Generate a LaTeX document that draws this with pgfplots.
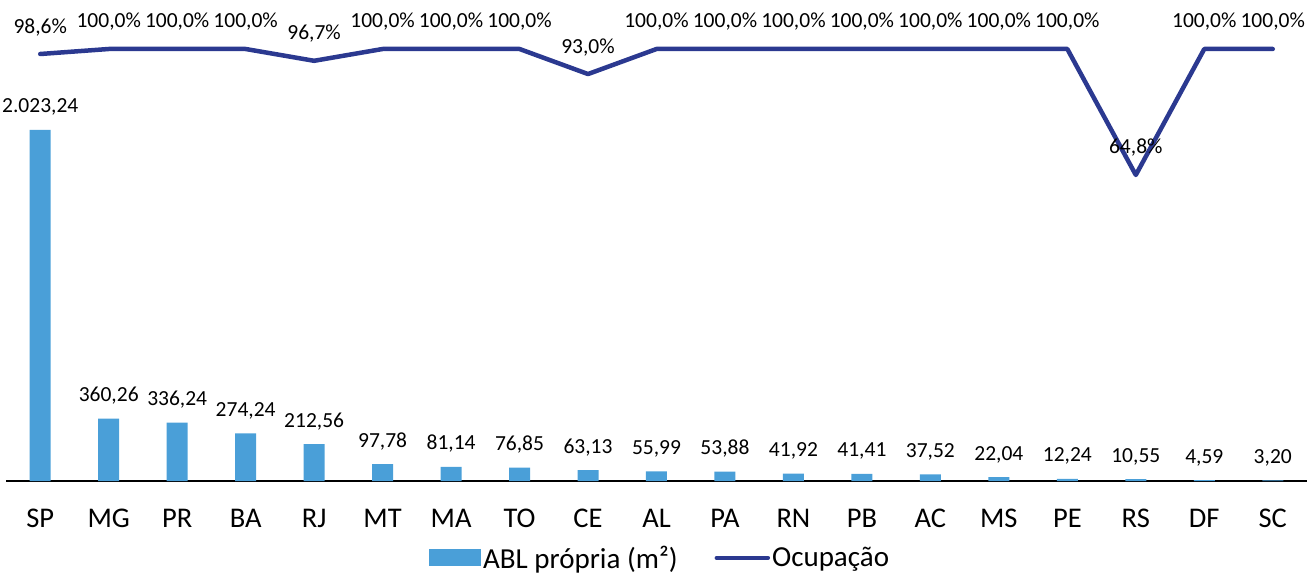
\documentclass[border=0pt]{standalone}
\usepackage{fontspec}
\setmainfont{Carlito}
\usepackage{pgfplots}
\usepackage{pgfplotstable}
\pgfplotsset{compat=1.18}
\definecolor{barblue}{HTML}{4A9FD8}
\definecolor{navy}{HTML}{2B3990}

\pgfplotstableread{
x y lbl
0 2023.24 2.023,24
1 360.26 360,26
2 336.24 336,24
3 274.24 274,24
4 212.56 212,56
5 97.78 97,78
6 81.14 81,14
7 76.85 76,85
8 63.13 63,13
9 55.99 55,99
10 53.88 53,88
11 41.92 41,92
12 41.41 41,41
13 37.52 37,52
14 22.04 22,04
15 12.24 12,24
16 10.55 10,55
17 4.59 4,59
18 3.20 3,20
}\abl

\pgfplotstableread{
x y lbl
0 98.6 98,6
1 100.0 100,0
2 100.0 100,0
3 100.0 100,0
4 96.7 96,7
5 100.0 100,0
6 100.0 100,0
7 100.0 100,0
8 93.0 93,0
9 100.0 100,0
10 100.0 100,0
11 100.0 100,0
12 100.0 100,0
13 100.0 100,0
14 100.0 100,0
15 100.0 100,0
16 64.8 64,8
17 100.0 100,0
18 100.0 100,0
}\ocup

\begin{document}
\begin{tikzpicture}
\begin{axis}[
  at={(6pt,93pt)}, anchor=south west,
  scale only axis, width=1301pt, height=432pt,
  xmin=-0.5, xmax=18.5, ymin=0, ymax=2490,
  axis x line*=bottom, axis y line=none,
  x axis line style={line width=2.5pt, black},
  xtick={0,...,18},
  xticklabels={SP,MG,PR,BA,RJ,MT,MA,TO,CE,AL,PA,RN,PB,AC,MS,PE,RS,DF,SC},
  major tick length=0pt,
  xticklabel style={font=\fontsize{28.5}{34}\selectfont, anchor=base, yshift=-46pt},
  clip=false,
  legend columns=2,
  legend style={at={(0.3251,-0.1780)}, anchor=west, draw=none, fill=none,
    inner sep=0pt, font=\fontsize{29}{34}\selectfont,
    nodes={inner xsep=2pt, inner ysep=0pt},
    /tikz/every even column/.append style={column sep=35pt}},
]
\addplot[ybar, bar width=21pt, fill=barblue, draw=none,
  nodes near coords, point meta=explicit symbolic,
  every node near coord/.append style={font=\fontsize{21.5}{25}\selectfont, text=black, anchor=base, yshift=17pt},
  legend image code/.code={\fill[barblue] (0pt,-8.5pt) rectangle (52pt,8.5pt);}]
  table[x=x, y=y, meta=lbl]{\abl};
\addlegendentry{ABL própria (m²)}
\addlegendimage{legend image code/.code={\draw[navy, line width=4.5pt, line cap=round] (2pt,0pt) -- (53pt,0pt);}}
\addlegendentry{Ocupação}
\end{axis}
\begin{axis}[
  at={(6pt,93pt)}, anchor=south west,
  scale only axis, width=1301pt, height=432pt,
  xmin=-0.5, xmax=18.5, ymin=-20.7, ymax=100,
  hide axis, clip=false,
]
\addplot[navy, line width=4.5pt, line cap=round, line join=round, mark=none,
  nodes near coords={\pgfplotspointmeta\%}, point meta=explicit symbolic,
  every node near coord/.append style={font=\fontsize{21.5}{25}\selectfont, text=black, anchor=base, yshift=21pt}]
  table[x=x, y=y, meta=lbl]{\ocup};
\end{axis}
\pgfresetboundingbox
\path[use as bounding box] (0,0) rectangle (1314pt,574pt);
\end{tikzpicture}
\end{document}
